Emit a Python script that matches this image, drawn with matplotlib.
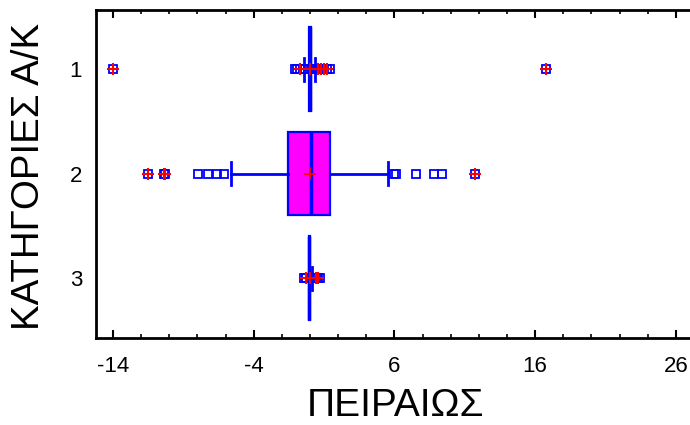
import matplotlib
matplotlib.use('Agg')
import matplotlib.pyplot as plt
from matplotlib.ticker import MultipleLocator

plt.rcParams['font.family'] = ['Liberation Sans', 'DejaVu Sans']
plt.rcParams['axes.unicode_minus'] = False

# Δεδομένα: στατιστικά θηκογράμματος ανά κατηγορία
categories = [1, 2, 3]
q1 = [-0.05, -1.55, -0.08]
medians = [0.0, 0.06, -0.05]
q3 = [0.05, 1.41, -0.02]
means = [0.0, 0.0, 0.0]
whislo = [-0.43, -5.64, -0.08]
whishi = [0.36, 5.55, 0.15]

# Ακραίες τιμές (μόνο τετράγωνο)
outliers_1 = [-1.07, -0.95, -0.5, -0.4, 0.4, 0.5, 1.42]
outliers_2 = [-7.93, -7.27, -6.63, -6.09, 5.95, 6.1, 7.5, 8.82, 9.37]
outliers_3 = [-0.45, -0.3, 0.3, 0.5, 0.7]

# Πολύ ακραίες τιμές (τετράγωνο με σταυρό)
far_1 = [-14.0, -0.71, 0.6, 0.8, 1.0, 1.2, 16.75]
far_2 = [-11.53, -10.4, -10.3, 11.72]
far_3 = [-0.28, 0.43, 0.6]

stats = []
outliers = [outliers_1, outliers_2, outliers_3]
far = [far_1, far_2, far_3]
for i in range(3):
    stats.append({
        'q1': q1[i], 'med': medians[i], 'q3': q3[i], 'mean': means[i],
        'whislo': whislo[i], 'whishi': whishi[i],
        'fliers': outliers[i] + far[i],
    })

fig = plt.figure(figsize=(6.9, 4.25), dpi=100)
ax = fig.add_axes([96 / 690, 87 / 425, 604 / 690, 328 / 425])

ax.bxp(stats, positions=categories, widths=0.8, orientation='horizontal',
       patch_artist=True, showmeans=True, capwidths=0.22,
       boxprops=dict(facecolor='#FF00FF', edgecolor='#0000FF', linewidth=1.6),
       whiskerprops=dict(color='#0000FF', linewidth=2),
       capprops=dict(color='#0000FF', linewidth=2),
       medianprops=dict(color='#0000FF', linewidth=2.5),
       meanprops=dict(marker='+', markeredgecolor='red', markersize=9, markeredgewidth=1.3),
       flierprops=dict(marker='s', markerfacecolor='none', markeredgecolor='#0000FF',
                       markersize=5.5, markeredgewidth=1.3))

for i in range(3):
    ax.plot(far[i], [categories[i]] * len(far[i]), linestyle='none', marker='+',
            markeredgecolor='red', markersize=9, markeredgewidth=1.5, zorder=5)

ax.set_xlim(-15.21, 27.72)
ax.set_ylim(3.574, 0.435)
ax.xaxis.set_major_locator(MultipleLocator(10))
ax.xaxis.set_minor_locator(MultipleLocator(2))
ax.set_xticks([-14, -4, 6, 16, 26])
ax.set_yticks(categories)
ax.set_yticklabels(['1', '2', '3'])

ax.tick_params(axis='x', which='both', direction='in', top=True, bottom=True,
               labelsize=16, pad=13)
ax.tick_params(axis='x', which='major', length=6, width=1.5)
ax.tick_params(axis='x', which='minor', length=3, width=1.2)
ax.tick_params(axis='y', length=0, labelsize=16, pad=10)
for s in ax.spines.values():
    s.set_linewidth(2)
ax.spines['right'].set_visible(False)

ax.set_xlabel('ΠΕΙΡΑΙΩΣ', fontsize=28, va='center')
ax.xaxis.set_label_coords((395 - 96) / 604, -(406 - 338) / 328)
ax.set_ylabel('ΚΑΤΗΓΟΡΙΕΣ Α/Κ', fontsize=27.7, va='center')
ax.yaxis.set_label_coords(-(96 - 29) / 604, 0.494)

fig.savefig('out.png', dpi=100)
